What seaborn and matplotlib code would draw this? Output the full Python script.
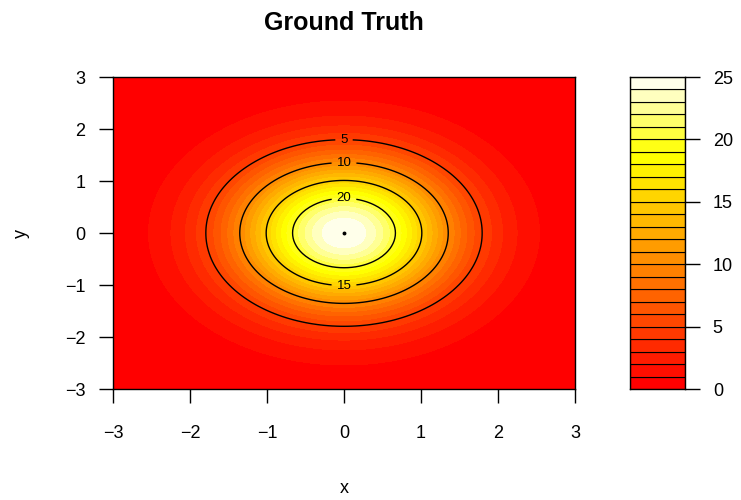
import colorsys
import numpy as np
import matplotlib
matplotlib.use("Agg")
import matplotlib.pyplot as plt
import seaborn as sns

# ---- data ----
x_vals = np.linspace(-3, 3, 121)
y_vals = np.linspace(-3, 3, 121)
peak_value = 25.0
spread = 2.0  # surface: peak * exp(-(x^2 + y^2) / spread)
fill_levels = list(range(0, 26))
line_levels = [5, 10, 15, 20]
x_ticks = [-3, -2, -1, 0, 1, 2, 3]
y_ticks = [-3, -2, -1, 0, 1, 2, 3]
cbar_ticks = [0, 5, 10, 15, 20, 25]
title = "Ground Truth"


def heat_colors(n):
    j = n // 4
    i = n - j
    cols = []
    for k in range(i):
        h = (k / (i - 1)) * (1 / 6) if i > 1 else 0
        cols.append(colorsys.hsv_to_rgb(h, 1, 1))
    if j > 0:
        sats = np.linspace(1 - 1 / (2 * j), 1 / (2 * j), j)
        for s in sats:
            cols.append(colorsys.hsv_to_rgb(1 / 6, s, 1))
    return cols


sns.set_style("ticks")
plt.rcParams["font.family"] = ["Liberation Sans", "DejaVu Sans"]
plt.rcParams["text.color"] = "black"
plt.rcParams["axes.labelcolor"] = "black"
plt.rcParams["xtick.color"] = "black"
plt.rcParams["ytick.color"] = "black"

X, Y = np.meshgrid(x_vals, y_vals)
Z = peak_value * np.exp(-(X ** 2 + Y ** 2) / spread)
colors = heat_colors(len(fill_levels) - 1)

fig = plt.figure(figsize=(7.41, 5.0), dpi=100)
ax = fig.add_axes([113 / 741, 1 - 389 / 500, 462 / 741, 312 / 500])
cax = fig.add_axes([630 / 741, 1 - 389 / 500, 55 / 741, 312 / 500])

ax.contourf(X, Y, Z, levels=fill_levels, colors=colors)
cs = ax.contour(X, Y, Z, levels=line_levels, colors="black", linewidths=1.0)
ax.clabel(cs, fmt="%d", fontsize=9.5, inline=True, inline_spacing=5,
          manual=[(0, 1.79), (0, 1.36), (0, -1.02), (0, 0.67)])
ax.plot([0], [0], marker="o", color="black", markersize=1.8)

ax.set_xlim(-3, 3)
ax.set_ylim(-3, 3)
ax.set_xticks(x_ticks)
ax.set_yticks(y_ticks)
ax.set_xticklabels([str(t).replace("-", "\u2212") for t in x_ticks])
ax.set_yticklabels([str(t).replace("-", "\u2212") for t in y_ticks])
ax.tick_params(direction="out", length=10, width=1, labelsize=13, pad=16, color="black",
               labelcolor="black")
ax.tick_params(axis="y", pad=10)
ax.set_xlabel("x", fontsize=13, labelpad=27)
ax.set_ylabel("y", fontsize=13, labelpad=25)
for sp in ax.spines.values():
    sp.set_visible(True)
    sp.set_linewidth(1.0)
    sp.set_color("black")
fig.text(344 / 741, 1 - 23 / 500, title, ha="center", va="center",
         fontsize=18, fontweight="bold")

# colorbar
bottoms = fill_levels[:-1]
cax.bar([0.5] * len(bottoms), [1] * len(bottoms), bottom=bottoms, width=1.0,
        color=colors, edgecolor="black", linewidth=0.8)
cax.set_xlim(0, 1)
cax.set_ylim(fill_levels[0], fill_levels[-1])
cax.set_xticks([])
cax.set_yticks(cbar_ticks)
cax.yaxis.tick_right()
cax.tick_params(axis="y", direction="out", length=11, width=1, labelsize=13, pad=9,
                color="black", labelcolor="black")
for sp in cax.spines.values():
    sp.set_visible(True)
    sp.set_linewidth(1.0)
    sp.set_color("black")

fig.savefig("out.png", dpi=100)
